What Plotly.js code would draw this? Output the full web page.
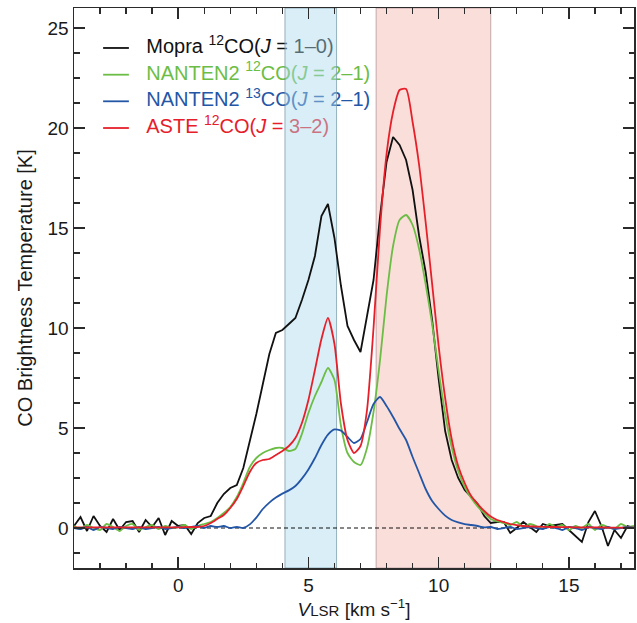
<!DOCTYPE html>
<html><head><meta charset="utf-8">
<script src="https://cdn.plot.ly/plotly-3.0.1.min.js"></script>
<style>html,body{margin:0;padding:0;background:#fff}#chart{width:637px;height:623px}</style>
</head><body><div id="chart"></div>
<script>
// LSR velocity channels [km/s]
const velocity = [
  -4,-3.75,-3.5,-3.25,-3,-2.75,-2.5,-2.25,-2,-1.75,-1.5,-1.25,-1,-0.75,-0.5,-0.25,
  0,0.25,0.5,0.75,1,1.25,1.5,1.75,2,2.25,2.5,2.75,3,3.25,3.5,3.75,
  4,4.25,4.5,4.75,5,5.25,5.5,5.75,6,6.25,6.5,6.75,7,7.25,7.5,7.75,
  8,8.25,8.5,8.75,9,9.25,9.5,9.75,10,10.25,10.5,10.75,11,11.25,11.5,11.75,
  12,12.25,12.5,12.75,13,13.25,13.5,13.75,14,14.25,14.5,14.75,15,15.25,15.5,15.75,
  16,16.25,16.5,16.75,17,17.25,17.5
];
// Mopra 12CO(J=1-0) [K]
const mopra12co = [
  0.1,0.55,-0.15,0.6,0.1,-0.2,0.45,-0.1,0.3,0.35,-0.2,0.4,0.05,0.5,-0.35,0.35,
  0.1,0.15,-0.3,0.25,0.5,0.6,1.25,1.7,2.0,2.15,3.0,4.3,5.7,7.2,8.7,9.75,
  9.9,10.2,10.5,11.4,12.4,13.6,15.6,16.2,14.5,12.1,10.1,9.4,8.8,10.6,12.4,15.6,
  18.3,19.55,19.15,18.4,16.9,14.6,12.8,10.4,7.45,4.85,3.4,2.5,1.9,1.55,1.2,0.6,
  0.25,0.3,0.3,-0.25,0.0,0.3,0.05,-0.2,0.2,0.1,0.15,0.2,-0.1,-0.4,-0.7,0.3,
  0.85,0.1,-0.9,-0.1,-0.5,0.1,0.0
];
// NANTEN2 12CO(J=2-1) [K]
const nanten12co = [
  0.1,-0.05,0.15,0.0,-0.1,0.2,0.05,-0.15,0.1,0.2,-0.1,0.05,0.15,-0.05,0.1,0.0,
  0.05,0.15,-0.05,0.1,0.2,0.3,0.5,0.75,1.05,1.55,2.25,3.05,3.5,3.75,3.9,4.0,
  4.0,3.85,3.95,4.7,5.75,6.6,7.3,8.0,7.4,5.1,3.75,3.3,3.15,4.0,5.8,8.4,
  11.6,14.1,15.4,15.65,15.15,13.95,12.2,10.2,7.85,5.7,4.05,2.85,2.05,1.5,1.07,0.74,
  0.45,0.33,0.25,0.15,0.3,0.05,0.2,0.1,-0.05,0.2,0.05,0.15,-0.1,0.1,0.0,0.2,
  -0.1,0.15,0.05,-0.05,0.2,0.05,0.1
];
// NANTEN2 13CO(J=2-1) [K]
const nanten13co = [
  0.0,-0.05,0.05,-0.1,0.05,0.0,-0.05,0.05,0.0,-0.05,0.05,-0.05,0.0,0.05,-0.05,0.0,
  0.05,0.0,0.05,0.1,0.0,0.1,0.05,0.1,0.0,0.05,0.0,0.18,0.52,0.95,1.27,1.52,
  1.72,1.88,2.1,2.47,2.93,3.5,4.15,4.67,4.93,4.87,4.55,4.25,4.45,5.3,6.2,6.55,
  6.1,5.55,4.95,4.4,3.55,2.75,1.95,1.35,0.95,0.62,0.4,0.28,0.19,0.15,0.1,0.03,
  0.05,-0.05,0.0,0.05,-0.05,0.0,0.05,0.0,-0.05,0.05,0.0,-0.1,0.05,0.0,-0.1,0.05,
  0.0,-0.05,0.05,-0.05,0.0,0.05,0.0
];
// ASTE 12CO(J=3-2) [K]
const aste12co = [
  0.03,0.03,0.03,0.03,0.03,0.03,0.03,0.03,0.03,0.03,0.03,0.03,0.03,0.03,0.03,0.03,
  0.03,0.04,0.05,0.05,0.1,0.25,0.45,0.65,1.0,1.45,2.1,2.8,3.25,3.4,3.45,3.65,
  3.85,4.1,4.5,5.25,6.4,7.9,9.45,10.5,9.2,6.2,4.4,3.75,4.1,5.9,10.0,15.0,
  18.7,20.8,21.9,21.95,20.3,18.15,15.3,12.2,9.1,6.5,4.45,3.1,2.25,1.6,1.2,0.85,
  0.57,0.4,0.3,0.2,0.14,0.1,0.08,0.07,0.06,0.05,0.05,0.04,0.04,0.03,0.03,0.03,
  0.03,0.03,0.02,0.02,0.02,0.02,0.02
];
const seriesData = [mopra12co, nanten12co, nanten13co, aste12co];
const seriesLabels = [
  'Mopra <sup>12</sup>CO(<i>J</i> = 1–0)',
  'NANTEN2 <sup>12</sup>CO(<i>J</i> = 2–1)',
  'NANTEN2 <sup>13</sup>CO(<i>J</i> = 2–1)',
  'ASTE <sup>12</sup>CO(<i>J</i> = 3–2)'
];
const seriesColors = ['#111111', '#6cbd45', '#2456a6', '#e6202a'];
const blueBand = [4.1, 6.08];
const redBand = [7.6, 12.0];
const xRange = [-4, 17.5];
const yRange = [-2, 26];

// legend layout (fractions of the plot area)
const legRows = [0.9286, 0.8809, 0.8334, 0.7857];
const legLineX = [0.052, 0.098];
const legTextX = 0.129;

const FONT = 'Liberation Sans, Arial, Helvetica, sans-serif';
const traces = [];

// legend (drawn beneath the translucent bands, as in the original figure)
traces.push({
  type: 'scatter', mode: 'text', xaxis: 'x', yaxis: 'y',
  x: legRows.map(() => legTextX), y: legRows,
  text: seriesLabels, textposition: 'middle right',
  textfont: {family: FONT, size: 20, color: seriesColors},
  cliponaxis: false, showlegend: false, hoverinfo: 'skip'
});
legRows.forEach((r, i) => {
  traces.push({
    type: 'scatter', mode: 'lines', xaxis: 'x', yaxis: 'y',
    x: legLineX, y: [r, r], line: {color: seriesColors[i], width: 1.8},
    showlegend: false, hoverinfo: 'skip'
  });
});

// velocity bands
function band(b, fill, edge) {
  return {
    type: 'scatter', mode: 'lines', xaxis: 'x2', yaxis: 'y2',
    x: [b[0], b[1], b[1], b[0], b[0]],
    y: [yRange[0], yRange[0], yRange[1], yRange[1], yRange[0]],
    fill: 'toself', fillcolor: fill, line: {color: edge, width: 1},
    showlegend: false, hoverinfo: 'skip'
  };
}
traces.push(band(blueBand, 'rgba(171,218,238,0.45)', 'rgba(120,155,170,0.75)'));
traces.push(band(redBand, 'rgba(244,182,173,0.45)', 'rgba(175,145,150,0.75)'));

// zero level
traces.push({
  type: 'scatter', mode: 'lines', xaxis: 'x2', yaxis: 'y2',
  x: xRange, y: [0, 0], line: {color: '#111', width: 1.2, dash: '4px,3px'},
  showlegend: false, hoverinfo: 'skip'
});

// spectra
seriesData.forEach((d, i) => {
  traces.push({
    type: 'scatter', mode: 'lines', xaxis: 'x2', yaxis: 'y2',
    x: velocity, y: d,
    line: {color: seriesColors[i], width: 1.8, shape: i === 0 ? 'linear' : 'spline', smoothing: 0.6},
    showlegend: false, hoverinfo: 'skip'
  });
});

const axisCommon = {
  showline: true, linecolor: '#2b2b2b', linewidth: 1.5, mirror: 'ticks',
  ticks: 'inside', ticklen: 11, tickwidth: 1.5, tickcolor: '#2b2b2b',
  showgrid: false, zeroline: false,
  tickfont: {family: FONT, size: 19, color: '#1a1a1a'}
};

const layout = {
  width: 637, height: 623,
  margin: {l: 74, r: 3, t: 8, b: 55},
  paper_bgcolor: '#fff', plot_bgcolor: '#fff',
  font: {family: FONT, color: '#1a1a1a'},
  showlegend: false,
  xaxis: {domain: [0, 1], range: [0, 1], visible: false, fixedrange: true},
  yaxis: {domain: [0, 1], range: [0, 1], visible: false, fixedrange: true, anchor: 'x'},
  xaxis2: Object.assign({}, axisCommon, {
    overlaying: 'x', anchor: 'y2', range: xRange, tick0: 0, dtick: 5,
    minor: {ticks: 'inside', ticklen: 5.5, tickwidth: 1.3, tickcolor: '#2b2b2b', dtick: 1, showgrid: false},
    title: {text: '<i>V</i><span style="font-size:15px">LSR</span> [km s<sup>−1</sup>]',
            font: {family: FONT, size: 19, color: '#1a1a1a'}, standoff: 7}
  }),
  yaxis2: Object.assign({}, axisCommon, {
    overlaying: 'y', anchor: 'x2', range: yRange, tick0: 0, dtick: 5,
    minor: {ticks: 'inside', ticklen: 5.5, tickwidth: 1.3, tickcolor: '#2b2b2b', dtick: 1.25, showgrid: false},
    title: {text: 'CO Brightness Temperature [K]',
            font: {family: FONT, size: 20, color: '#1a1a1a'}, standoff: 9}
  })
};

Plotly.newPlot('chart', traces, layout, {staticPlot: true, displayModeBar: false});
</script>
</body></html>
